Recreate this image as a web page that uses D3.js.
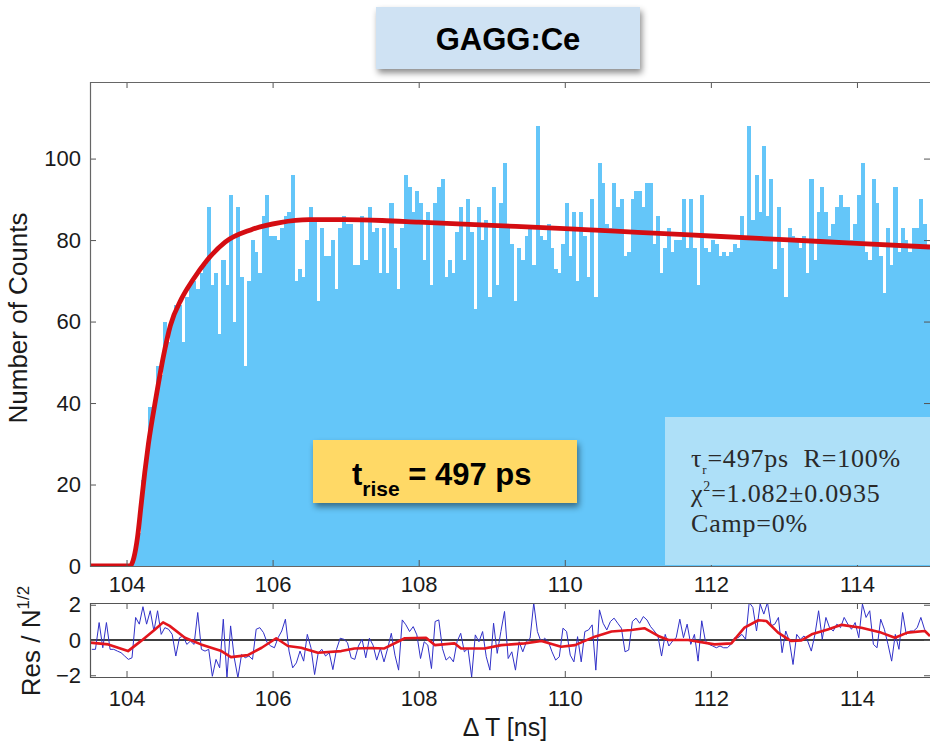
<!DOCTYPE html>
<html>
<head>
<meta charset="utf-8">
<script src="https://cdn.jsdelivr.net/npm/d3@7"></script>
<style>
  body { margin: 0; background: #fff; }
  svg { display: block; font-family: "Liberation Sans", Arial, Helvetica, sans-serif; }
</style>
</head>
<body>
<svg id="chart"></svg>
<script>
// Data

let binStart = 103.5
let binWidth = 0.05

// counts per 50 ps bin, 103.5 .. 115 ns
let counts = [
    0, 0, 0, 0, 0, 0, 0, 0, 0, 0, 0, 1,
    3, 8, 21, 28, 39, 39, 49, 47, 60, 55, 60, 64, 64, 55, 66, 70, 70, 68,
    72, 74, 88, 69, 72, 57, 75, 69, 91, 60, 88, 71, 49, 70, 80, 77, 72, 86,
    91, 81, 81, 80, 83, 86, 87, 96, 70, 73, 71, 80, 88, 85, 65, 83, 76, 76,
    80, 68, 83, 86, 84, 84, 74, 74, 86, 75, 88, 82, 83, 72, 83, 72, 89, 78,
    68, 83, 96, 93, 87, 92, 89, 75, 87, 69,
    89, 93, 95, 71, 75, 72, 82, 88, 75, 90,
    82, 63, 88, 80, 85, 66, 93, 69, 89, 99,
    83, 79, 65, 78, 75, 81, 83, 74, 108, 81,
    80, 84, 78, 73, 72, 79, 89, 76, 87, 70,
    87, 81, 71, 90, 66, 99, 94, 84, 83, 94,
    88, 90, 76, 77, 90, 92, 92, 88, 94, 94,
    79, 86, 72, 78, 83, 77, 80, 80,
    90, 78, 90, 78, 69, 91, 78, 77, 80, 79,
    76, 77, 76, 77, 79, 78, 86, 80, 108, 85,
    96, 87, 103, 86, 95, 73, 88, 78, 66, 83,
    81, 80, 78, 81, 72, 95, 75, 87, 93, 87,
    81, 84, 88, 91, 88, 88, 80, 84, 91, 99,
    77, 75, 95, 89, 76, 67, 83, 74, 93, 77,
    83, 80, 77, 83, 83, 90, 84, 78
]

// fitted curve (ns, counts)
let fitT = [103.5, 104.05, 104.1, 104.15, 104.2, 104.25, 104.3, 104.4, 104.5, 104.6, 104.75, 104.9, 105.1, 105.35, 105.7, 106.1, 106.5, 107, 107.5, 108, 109, 110, 111, 112, 113, 114, 115]
let fitV = [0, 0, 2, 7, 15, 23, 30, 41, 51, 59, 65.5, 70, 75, 79.5, 82.5, 84.3, 85, 85, 84.8, 84.4, 83.6, 82.8, 81.9, 81, 80.1, 79.2, 78.3]

// residual per bin
let residuals = [
    -0.53, -0.53, 0.99, -0.44, 0.99, -0.53, -0.53, -0.63, -0.72, -0.91, -1.1, -1.01,
    1.28, 0.9, 1.89, 0.9, 1.66, 0.51, 1.66, 0.32, 0.7, 0.61, 0.32, -0.91, 0.13, 0.23,
    -0.25, -0.06, -0.25, 1.56, -0.53, -0.63, -0.53, -2.06, -1.1, -1.58, 1.18, -2.15,
    0.8, -1.01, -2.15, -0.82, -1.01, -0.91, -1.1, 0.61, 0.7, 0.42, -0.15, -0.34, -0.44,
    0.13, 0.51, 1.18, -0.63, -1.58, -1.3, -0.63, -1.2, 0.32, -0.44, -1.96, -0.72, -0.53,
    -0.91, -0.72, -1.68, -0.53, 0.1, 0.04, -0.15, -1.01, -1.1, -0.34, 0.04, -1.01,
    0.1, -0.29, -1.14, -0.48, -1.24, -0.48, 0.38, -0.86, -1.71, 1.14, 0.86, 0.48, 0.76,
    0.29, -1.05, -0.1, -0.29, -1.62, 1.05, 1.14, -0.48, -1.14, -0.95, -1.24, -0.1, 0.38,
    -0.67, -0.48, -2.1, 0.29, -0.1, 0.48, -0.95, -1.71, 0.95, -0.76, 0.48, 1.62, -1.05,
    -0.67, -1.71, -0.1, -0.67, -0.1, 0.1, 2.1, 0.48, -0.1, 0.1, -0.1, -0.67, -1.14, -0.95,
    0.67, 0.48, -0.86, -1.24, 0.19, -1.24, 0.48, 0.57, 0.86, -1.71, 1.71, 0.95, 0.57,
    1.05, 1.24, 0.95, 0.67, -0.67, -0.57, 1.05, 1.24, 0.95, 1.33, 1.14, 0.76,
    0.51, 0.23, -0.91, 0.32, -0.34, -0.06, 0.13, 1.18, 0.13, 0.9, -0.25, 0.32, -1.2,
    1.09, -0.06, -0.25, -0.34, -0.44, -0.34, -0.44, -0.44, -0.25, 0.13, 0.13, 0.32,
    0.04, 2.13, 1.85, 0.51, 2.04, 1.47, 2.13, 0.8, 0.9, 1.28, -0.72, 0.51, -0.06, -1.39,
    0.32, 0.04, 0.23, -0.06, -0.63, 0.32, 1.66, 0.04, 1.28, 0.7, 0.51, 0.9, 0.7, 1.28,
    0.9, 0.61, 0.99, 0.13, 2.04, 1.28, 1.66, -0.25, -0.44, 1.18, 0.61, -0.25, -1.2,
    0.32, -0.53, 1.56, 0.32, 0.51, 0.51, 0.7, 1.28, 0.61, 0.32
]

// smoothed residual (ns, value)
let resSmoothT = [103.5, 103.75, 104.02, 104.2, 104.39, 104.5, 104.59, 104.8, 105.02, 105.3,
    105.43, 105.66, 105.85, 106.05, 106.21, 106.39, 106.62, 106.94, 107.12, 107.35,
    107.53, 107.81, 108.1, 108.22, 108.49, 108.58, 108.9, 109.13, 109.45, 109.68,
    109.95, 110.14, 110.41, 110.64, 110.91, 111.09, 111.28, 111.42, 111.69, 112.05,
    112.28, 112.46, 112.65, 112.76, 112.92, 113.1, 113.24, 113.38, 113.6, 113.79,
    114.06, 114.33, 114.52, 114.69, 114.93, 115]
let resSmoothV = [-0.15, -0.25, -0.63, -0.05, 0.6, 1.0, 0.8, 0.13, -0.25, -0.63,
    -0.97, -0.86, -0.44, 0.1, -0.34, -0.44, -0.72, -0.63, -0.48, -0.45,
    -0.48, 0.1, 0.13, -0.29, -0.19, -0.48, -0.48, -0.29, -0.19, -0.06,
    -0.38, -0.29, 0.19, 0.48, 0.57, 0.67, 0.23, 0, 0, -0.25,
    -0.19, 0.7, 1.12, 1.08, 0.42, -0.06, -0.02, 0.32, 0.6, 0.86,
    0.7, 0.42, 0.13, 0.42, 0.51, 0.23]

let xTicks = [104, 106, 108, 110, 112, 114]
let yTicks = [0, 20, 40, 60, 80, 100]
let resTicks = [-2, 0, 2]

// Canvas

let width = 930
let height = 743
let left = 90
let right = 930
let mainTop = 82
let mainBottom = 566
let resTop = 603
let resBottom = 677

let svg = d3.select('#chart')
    .attr('width', width)
    .attr('height', height)

let defs = svg.append('defs')
let shadow = defs.append('filter').attr('id', 'shadow')
    .attr('x', '-10%').attr('y', '-20%').attr('width', '130%').attr('height', '160%')
shadow.append('feDropShadow')
    .attr('dx', 2).attr('dy', 4).attr('stdDeviation', 3)
    .attr('flood-color', '#000').attr('flood-opacity', 0.45)

defs.append('clipPath').attr('id', 'clipMain')
    .append('rect').attr('x', left).attr('y', mainTop).attr('width', right - left).attr('height', mainBottom - mainTop)
defs.append('clipPath').attr('id', 'clipRes')
    .append('rect').attr('x', left).attr('y', resTop).attr('width', right - left).attr('height', resBottom - resTop)

// Scales

let xScale = d3.scaleLinear().domain([103.5, 115]).range([left, right])
let yScale = d3.scaleLinear().domain([0, 118.8]).range([mainBottom, mainTop])
let rScale = d3.scaleLinear().domain([-2.1, 2.1]).range([resBottom, resTop])

// Histogram

let main = svg.append('g').attr('clip-path', 'url(#clipMain)')

main.selectAll('rect.bar')
    .data(counts)
    .enter()
    .append('rect')
    .attr('class', 'bar')
    .attr('x', (d, i) => xScale(binStart + i * binWidth))
    .attr('width', (d, i) => xScale(binStart + (i + 1) * binWidth) - xScale(binStart + i * binWidth) + 0.4)
    .attr('y', d => yScale(d))
    .attr('height', d => yScale(0) - yScale(d))
    .attr('fill', '#64c6f9')
    .attr('shape-rendering', 'crispEdges')

// Fit curve

let fitLine = d3.line()
    .x((d, i) => xScale(fitT[i]))
    .y(d => yScale(d))
    .curve(d3.curveMonotoneX)

main.append('path')
    .attr('d', fitLine(fitV))
    .attr('fill', 'none')
    .attr('stroke', '#d40d12')
    .attr('stroke-width', 4.8)
    .attr('stroke-linejoin', 'round')

// Axes helper

let styleAxis = (g) => {
    g.select('.domain').remove()
    g.selectAll('.tick line').attr('stroke', '#555')
    g.selectAll('.tick text')
        .attr('fill', '#1a1a1a')
        .style('font-size', '22px')
        .style('font-family', '"Liberation Sans", Arial, sans-serif')
}

// main panel axes
svg.append('g')
    .attr('transform', 'translate(0,' + mainBottom + ')')
    .call(d3.axisBottom(xScale).tickValues(xTicks).tickSize(-6).tickPadding(10).tickFormat(d3.format('d')))
    .call(styleAxis)

svg.append('g')
    .attr('transform', 'translate(0,' + mainTop + ')')
    .call(d3.axisTop(xScale).tickValues(xTicks).tickSize(-6).tickFormat(''))
    .call(styleAxis)

svg.append('g')
    .attr('transform', 'translate(' + left + ',0)')
    .call(d3.axisLeft(yScale).tickValues(yTicks).tickSize(-6).tickPadding(9))
    .call(styleAxis)

svg.append('g')
    .attr('transform', 'translate(' + right + ',0)')
    .call(d3.axisRight(yScale).tickValues(yTicks).tickSize(-6).tickFormat(''))
    .call(styleAxis)

// main frame
svg.append('path')
    .attr('d', 'M' + right + ',' + (mainTop + 0.5) + 'H' + (left + 0.5) + 'V' + (mainBottom + 0.5) + 'H' + right)
    .attr('fill', 'none')
    .attr('stroke', '#666')
    .attr('stroke-width', 1.2)

// Info box

let info = svg.append('g')
info.append('rect')
    .attr('x', 665).attr('y', 417).attr('width', 270).attr('height', 148)
    .attr('fill', '#aee0f8')

let infoText = info.append('text')
    .attr('font-family', '"Liberation Serif", "DejaVu Serif", serif')
    .attr('font-size', 26)
    .attr('letter-spacing', 0.8)
    .attr('fill', '#2a2a2a')
    .style('white-space', 'pre')

let l1 = infoText.append('tspan').attr('x', 691).attr('y', 467)
l1.append('tspan').text('τ')
l1.append('tspan').attr('font-size', 13).attr('dy', 7).text('r')
l1.append('tspan').attr('dy', -7).text('=497ps  R=100%')

let l2 = infoText.append('tspan').attr('x', 691).attr('y', 502)
l2.append('tspan').text('χ')
l2.append('tspan').attr('font-size', 14).attr('dy', -11).text('2')
l2.append('tspan').attr('dy', 11).text('=1.082±0.0935')

infoText.append('tspan').attr('x', 691).attr('y', 532).text('Camp=0%')

// t_rise box

svg.append('rect')
    .attr('x', 313).attr('y', 440).attr('width', 264).attr('height', 63)
    .attr('fill', '#ffd966')
    .attr('filter', 'url(#shadow)')

let trise = svg.append('text')
    .attr('x', 352).attr('y', 485)
    .attr('font-weight', 'bold')
    .attr('font-size', 31)
    .attr('fill', '#000')
trise.append('tspan').text('t')
trise.append('tspan').attr('font-size', 21).attr('dy', 11).text('rise')
trise.append('tspan').attr('dy', -11).text(' = 497 ps')

// Title box

svg.append('rect')
    .attr('x', 376).attr('y', 7).attr('width', 264).attr('height', 62)
    .attr('fill', '#cfe2f3')
    .attr('filter', 'url(#shadow)')

svg.append('text')
    .attr('x', 508).attr('y', 50)
    .attr('text-anchor', 'middle')
    .attr('font-weight', 'bold')
    .attr('font-size', 31)
    .attr('fill', '#000')
    .text('GAGG:Ce')

// Residual panel

let res = svg.append('g').attr('clip-path', 'url(#clipRes)')

res.append('line')
    .attr('x1', left).attr('x2', right)
    .attr('y1', rScale(0)).attr('y2', rScale(0))
    .attr('stroke', '#000')
    .attr('stroke-width', 1.6)

let resLine = d3.line()
    .x((d, i) => xScale(binStart + (i + 0.5) * binWidth))
    .y(d => rScale(d))

res.append('path')
    .attr('d', resLine(residuals))
    .attr('fill', 'none')
    .attr('stroke', '#3030c8')
    .attr('stroke-width', 1)

let smoothLine = d3.line()
    .x((d, i) => xScale(resSmoothT[i]))
    .y(d => rScale(d))

res.append('path')
    .attr('d', smoothLine(resSmoothV))
    .attr('fill', 'none')
    .attr('stroke', '#e3161d')
    .attr('stroke-width', 2.6)
    .attr('stroke-linejoin', 'round')

svg.append('g')
    .attr('transform', 'translate(0,' + resBottom + ')')
    .call(d3.axisBottom(xScale).tickValues(xTicks).tickSize(-6).tickPadding(13).tickFormat(d3.format('d')))
    .call(styleAxis)

svg.append('g')
    .attr('transform', 'translate(0,' + resTop + ')')
    .call(d3.axisTop(xScale).tickValues(xTicks).tickSize(-6).tickFormat(''))
    .call(styleAxis)

svg.append('g')
    .attr('transform', 'translate(' + left + ',0)')
    .call(d3.axisLeft(rScale).tickValues(resTicks).tickSize(-6).tickPadding(9).tickFormat(d => d < 0 ? '\u2212' + Math.abs(d) : d))
    .call(styleAxis)

svg.append('g')
    .attr('transform', 'translate(' + right + ',0)')
    .call(d3.axisRight(rScale).tickValues(resTicks).tickSize(-6).tickFormat(''))
    .call(styleAxis)

svg.append('path')
    .attr('d', 'M' + right + ',' + (resTop + 0.5) + 'H' + (left + 0.5) + 'V' + (resBottom + 0.5) + 'H' + right)
    .attr('fill', 'none')
    .attr('stroke', '#555')
    .attr('stroke-width', 1.2)

// Axis titles

svg.append('text')
    .attr('transform', 'translate(27,318) rotate(-90)')
    .attr('text-anchor', 'middle')
    .attr('font-size', 26)
    .attr('fill', '#1a1a1a')
    .text('Number of Counts')

let resTitle = svg.append('text')
    .attr('transform', 'translate(40,641) rotate(-90)')
    .attr('text-anchor', 'middle')
    .attr('font-size', 26)
    .attr('fill', '#1a1a1a')
resTitle.append('tspan').text('Res / N')
resTitle.append('tspan').attr('font-size', 17).attr('dy', -11).text('1/2')

svg.append('text')
    .attr('x', 505).attr('y', 736)
    .attr('text-anchor', 'middle')
    .attr('font-size', 25)
    .attr('fill', '#1a1a1a')
    .style('white-space', 'pre')
    .text('Δ T [ns]')
</script>
</body>
</html>
